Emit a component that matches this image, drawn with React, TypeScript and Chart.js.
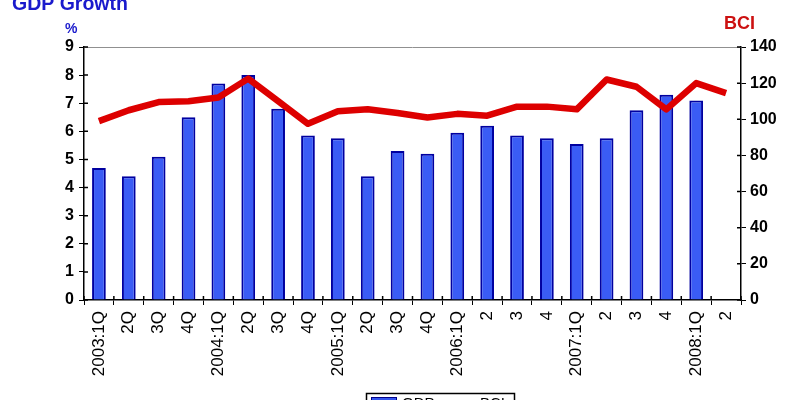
import React, { useEffect, useRef } from "react";
import { Chart, registerables } from "chart.js";

Chart.register(...registerables);

const categories = [
  "2003:1Q", "2Q", "3Q", "4Q",
  "2004:1Q", "2Q", "3Q", "4Q",
  "2005:1Q", "2Q", "3Q", "4Q",
  "2006:1Q", "2", "3", "4",
  "2007:1Q", "2", "3", "4",
  "2008:1Q", "2",
];

const gdpGrowth = [
  4.7, 4.4, 5.1, 6.5,
  7.7, 8.0, 6.8, 5.85,
  5.75, 4.4, 5.3, 5.2,
  5.95, 6.2, 5.85, 5.75,
  5.55, 5.75, 6.75, 7.3,
  7.1, null,
];

const bci = [
  99, 105, 109.5, 110,
  112, 122.5, 110, 97.5,
  104.5, 105.5, 103.5, 101,
  103, 102, 107, 107,
  105.5, 122, 118, 105.5,
  120, 114.5,
];

const leftTicks = { min: 0, max: 9, step: 1 };
const rightTicks = { min: 0, max: 140, step: 20 };

const FONT = "'Liberation Sans', Arial, sans-serif";

const decorPlugin = {
  id: "decor",
  afterDraw(chart: any) {
    const ctx = chart.ctx;
    const area = chart.chartArea;
    ctx.save();
    // top border line
    ctx.strokeStyle = "#909090";
    ctx.lineWidth = 1;
    ctx.beginPath();
    ctx.moveTo(area.left, area.top + 0.5);
    ctx.lineTo(area.right, area.top + 0.5);
    ctx.stroke();

    // inner halves of tick marks (ticks cross the axis lines)
    ctx.strokeStyle = "#000";
    ctx.lineWidth = 1.5;
    ctx.beginPath();
    const yL = chart.scales.y;
    yL.ticks.forEach((_t: any, i: number) => {
      const p = yL.getPixelForTick(i);
      ctx.moveTo(area.left, p);
      ctx.lineTo(area.left + 4, p);
    });
    const yR = chart.scales.y2;
    yR.ticks.forEach((_t: any, i: number) => {
      const p = yR.getPixelForTick(i);
      ctx.moveTo(area.right, p);
      ctx.lineTo(area.right - 4, p);
    });
    const xs = chart.scales.x;
    const n = xs.ticks.length;
    for (let i = 0; i <= n; i++) {
      const p = xs.getPixelForTick(Math.min(i, n - 1)) + (i < n ? -1 : 1) * (xs.width / n) / 2;
      ctx.moveTo(p, area.bottom);
      ctx.lineTo(p, area.bottom - 4);
    }
    ctx.stroke();

    // titles
    ctx.textBaseline = "middle";
    ctx.textAlign = "left";
    ctx.fillStyle = "#1a1acc";
    ctx.font = `bold 19.5px ${FONT}`;
    ctx.fillText("GDP Growth", 12, 5);
    ctx.font = `bold 14px ${FONT}`;
    ctx.fillText("%", 65, 29);
    ctx.fillStyle = "#cc1111";
    ctx.font = `bold 18px ${FONT}`;
    ctx.fillText("BCI", 724, 24);

    // legend (partially cut off at bottom)
    ctx.strokeStyle = "#000";
    ctx.lineWidth = 1.5;
    ctx.strokeRect(366.5, 393.5, 148, 20);
    ctx.fillStyle = "#3355ee";
    ctx.fillRect(371, 397, 26, 8);
    ctx.strokeStyle = "#000088";
    ctx.lineWidth = 1;
    ctx.strokeRect(371.5, 397.5, 25, 7);
    ctx.fillStyle = "#000";
    ctx.font = `15px ${FONT}`;
    ctx.fillText("GDP", 402, 404);
    ctx.strokeStyle = "#dd0000";
    ctx.lineWidth = 5;
    ctx.beginPath();
    ctx.moveTo(440, 403);
    ctx.lineTo(474, 403);
    ctx.stroke();
    ctx.fillStyle = "#000";
    ctx.fillText("BCI", 480, 404);
    ctx.restore();
  },
};

export default function App() {
  const ref = useRef<HTMLCanvasElement | null>(null);

  useEffect(() => {
    document.body.style.margin = "0";
    const canvas = ref.current;
    if (!canvas) return;
    const chart = new Chart(canvas, {
      type: "bar",
      data: {
        labels: categories,
        datasets: [
          {
            type: "line",
            label: "BCI",
            data: bci,
            yAxisID: "y2",
            borderColor: "#dd0000",
            borderWidth: 6.5,
            pointRadius: 0,
            tension: 0,
            borderJoinStyle: "round",
            borderCapStyle: "butt",
            order: 0,
          } as any,
          {
            type: "bar",
            label: "GDP",
            data: gdpGrowth,
            yAxisID: "y",
            backgroundColor: "#3a5cf5",
            borderColor: "#0000a0",
            borderWidth: 2,
            barPercentage: 0.46,
            categoryPercentage: 1,
            order: 1,
          } as any,
        ],
      },
      options: {
        responsive: false,
        animation: false,
        maintainAspectRatio: false,
        layout: { padding: { top: 47, left: 0, right: 0, bottom: 0 } },
        plugins: {
          legend: { display: false },
          tooltip: { enabled: false },
          title: { display: false },
        },
        scales: {
          x: {
            type: "category",
            offset: true,
            grid: {
              offset: true,
              drawOnChartArea: false,
              drawTicks: true,
              tickLength: 5,
              color: "#000",
            },
            border: { color: "#000", width: 1.5 },
            ticks: {
              autoSkip: false,
              maxRotation: 90,
              minRotation: 90,
              color: "#000",
              padding: 6,
              font: { family: FONT, size: 17 },
            },
            afterFit(scale: any) {
              scale.height = 100;
            },
          },
          y: {
            position: "left",
            min: leftTicks.min,
            max: leftTicks.max,
            grid: {
              drawOnChartArea: false,
              drawTicks: true,
              tickLength: 5,
              color: "#000",
            },
            border: { color: "#000", width: 1.5 },
            ticks: {
              stepSize: leftTicks.step,
              color: "#000",
              padding: 5,
              font: { family: FONT, size: 16, weight: "bold" },
            },
            afterFit(scale: any) {
              scale.width = 84;
            },
          },
          y2: {
            position: "right",
            min: rightTicks.min,
            max: rightTicks.max,
            grid: {
              drawOnChartArea: false,
              drawTicks: true,
              tickLength: 5,
              color: "#000",
            },
            border: { color: "#000", width: 1.5 },
            ticks: {
              stepSize: rightTicks.step,
              color: "#000",
              padding: 4,
              font: { family: FONT, size: 16, weight: "bold" },
            },
            afterFit(scale: any) {
              scale.width = 59;
            },
          },
        },
      } as any,
      plugins: [decorPlugin],
    });
    return () => chart.destroy();
  }, []);

  return (
    <div style={{ position: "fixed", left: 0, top: 0, width: 800, height: 400, background: "#fff" }}>
      <canvas ref={ref} width={800} height={400} style={{ display: "block" }} />
    </div>
  );
}
